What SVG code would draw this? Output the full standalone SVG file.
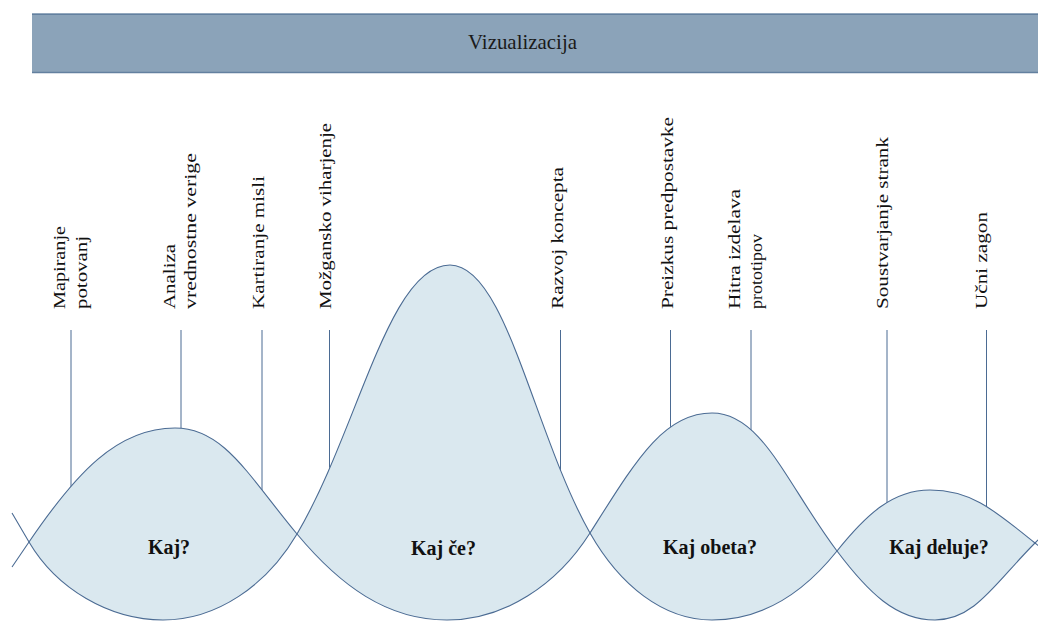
<svg xmlns="http://www.w3.org/2000/svg" width="1038" height="621" viewBox="0 0 1038 621">
<defs>
<style>
.lens{fill:#dae8ef;stroke:none;}
.wave{fill:none;stroke:#4b6b93;stroke-width:1.1;}
.vl{stroke:#4b6b93;stroke-width:1;}
</style>
</defs>
<rect width="1038" height="621" fill="#ffffff"/>
<g id="header">
<rect x="32" y="13.5" width="1010" height="59.5" fill="#8ba3b9"/>
<line x1="32" y1="14.2" x2="1038" y2="14.2" stroke="#63809f" stroke-width="1.6"/>
<line x1="32" y1="72.5" x2="1038" y2="72.5" stroke="#63809f" stroke-width="1.6"/>
<text font-family="Liberation Serif, Times New Roman, serif" font-size="21" fill="#1a1a1a" x="522.5" y="48.5" text-anchor="middle" textLength="109" lengthAdjust="spacingAndGlyphs">Vizualizacija</text>
</g>
<g id="connectors">
<line class="vl" x1="71" y1="330" x2="71" y2="492"/>
<line class="vl" x1="181" y1="330" x2="181" y2="432"/>
<line class="vl" x1="262" y1="330" x2="262" y2="494"/>
<line class="vl" x1="329.5" y1="330" x2="329.5" y2="470"/>
<line class="vl" x1="560.5" y1="330" x2="560.5" y2="471"/>
<line class="vl" x1="670.5" y1="330" x2="670.5" y2="431"/>
<line class="vl" x1="751" y1="330" x2="751" y2="434"/>
<line class="vl" x1="887" y1="330" x2="887" y2="505"/>
<line class="vl" x1="986.5" y1="330" x2="986.5" y2="511"/>
</g>
<g id="lens-kaj">
<path class="lens" d="M29,542 C75.5,473.6 117,428 175,428 C223.8,428 248.2,475.4 297,534 C266.6,585.7 216.6,620 163,620 C109.4,620 56.5,588.8 29,542 Z"/>
</g>
<g id="lens-kaj-ce">
<path class="lens" d="M297,534 C358.2,430 388.8,265 450,265 C506,265 534,434.4 590,533 C557,585.1 504,620 447,620 C387,620 340,585.6 297,534 Z"/>
</g>
<g id="lens-kaj-obeta">
<path class="lens" d="M590,533 C635.6,461 663.2,413 712,413 C762,413 787,484.5 837,551 C804,592.25 762,620 712,620 C663.2,620 619.7,585.3 590,533 Z"/>
</g>
<g id="lens-kaj-deluje">
<path class="lens" d="M837,551 C866.3,514.4 892.8,490 930,490 C972,490 995.25,511.2 1035,543 C995,583 975,620 935,620 C896,620 868,592.2 837,551 Z"/>
</g>
<g id="waves">
<path class="wave" d="M12,567 L29,542 C75.5,473.6 117,428 175,428 C223.8,428 248.2,475.4 297,534 C340,585.6 387,620 447,620 C504,620 557,585.1 590,533 C635.6,461 663.2,413 712,413 C762,413 787,484.5 837,551 C868,592.2 896,620 935,620 C975,620 995,583 1035,543 L1045,533"/>
<path class="wave" d="M12,513 L29,542 C56.5,588.8 109.4,620 163,620 C216.6,620 266.6,585.7 297,534 C358.2,430 388.8,265 450,265 C506,265 534,434.4 590,533 C619.7,585.3 663.2,620 712,620 C762,620 804,592.25 837,551 C866.3,514.4 892.8,490 930,490 C972,490 995.25,511.2 1035,543 L1045,551"/>
</g>
<g id="q-labels" font-family="Liberation Serif, Times New Roman, serif" font-size="20" font-weight="bold" fill="#111" text-anchor="middle">
<text x="169" y="554">Kaj?</text>
<text x="443.5" y="555">Kaj če?</text>
<text x="710" y="554">Kaj obeta?</text>
<text x="939" y="554">Kaj deluje?</text>
</g>
<g font-family="Liberation Serif, Times New Roman, serif" font-size="17" fill="#111">
<g id="label-mapiranje">
<text transform="translate(65,309) rotate(-90)" textLength="83" lengthAdjust="spacingAndGlyphs">Mapiranje</text>
<text transform="translate(87,309) rotate(-90)" textLength="73" lengthAdjust="spacingAndGlyphs">potovanj</text>
</g>
<g id="label-analiza">
<text transform="translate(175,309) rotate(-90)" textLength="65" lengthAdjust="spacingAndGlyphs">Analiza</text>
<text transform="translate(196,309) rotate(-90)" textLength="156" lengthAdjust="spacingAndGlyphs">vrednostne verige</text>
</g>
<g id="label-kartiranje">
<text transform="translate(264,309) rotate(-90)" textLength="133" lengthAdjust="spacingAndGlyphs">Kartiranje misli</text>
</g>
<g id="label-mozgansko">
<text transform="translate(330.5,309) rotate(-90)" textLength="186" lengthAdjust="spacingAndGlyphs">Možgansko viharjenje</text>
</g>
<g id="label-razvoj">
<text transform="translate(563,309) rotate(-90)" textLength="142" lengthAdjust="spacingAndGlyphs">Razvoj koncepta</text>
</g>
<g id="label-preizkus">
<text transform="translate(673,309) rotate(-90)" textLength="192" lengthAdjust="spacingAndGlyphs">Preizkus predpostavke</text>
</g>
<g id="label-hitra">
<text transform="translate(740,309) rotate(-90)" textLength="120" lengthAdjust="spacingAndGlyphs">Hitra izdelava</text>
<text transform="translate(762,309) rotate(-90)" textLength="75" lengthAdjust="spacingAndGlyphs">prototipov</text>
</g>
<g id="label-soustvarjanje">
<text transform="translate(888,309) rotate(-90)" textLength="172" lengthAdjust="spacingAndGlyphs">Soustvarjanje strank</text>
</g>
<g id="label-ucni">
<text transform="translate(986.5,309) rotate(-90)" textLength="97" lengthAdjust="spacingAndGlyphs">Učni zagon</text>
</g>
</g>
</svg>
